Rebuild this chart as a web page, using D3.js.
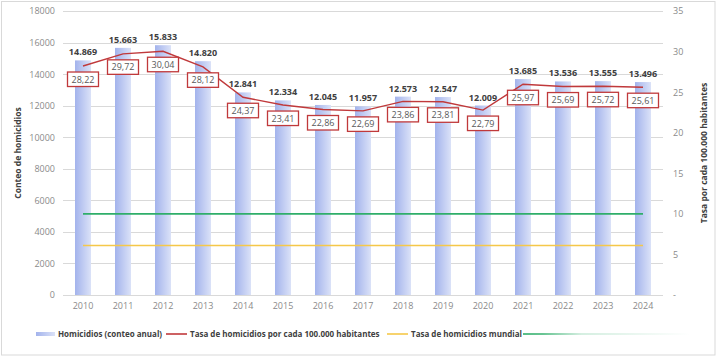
<!DOCTYPE html>
<html><head><meta charset="utf-8">
<script src="https://cdn.jsdelivr.net/npm/d3@7/dist/d3.min.js"></script>
<style>
body{margin:0;background:#fff;}
svg{display:block;font-family:"Open Sans",sans-serif;}
</style></head>
<body><svg id="c" width="718" height="358"></svg>
<script>
const years = ["2010","2011","2012","2013","2014","2015","2016","2017","2018","2019","2020","2021","2022","2023","2024"];
const homicides = [14869,15663,15833,14820,12841,12334,12045,11957,12573,12547,12009,13685,13536,13555,13496];
const rates = [28.22,29.72,30.04,28.12,24.37,23.41,22.86,22.69,23.86,23.81,22.79,25.97,25.69,25.72,25.61];
const worldRate = 6.1;
const refRate = 10;
const leftTicks = [0,2000,4000,6000,8000,10000,12000,14000,16000,18000];
const rightTicks = [0,5,10,15,20,25,30,35];
const legendLabels = ["Homicidios (conteo anual)","Tasa de homicidios por cada 100.000 habitantes","Tasa de homicidios mundial",""];
const leftTitle = "Conteo de homicidios";
const rightTitle = "Tasa por cada 100.000 habitantes";

const svg = d3.select("#c");
const L=63,R=663,T=11,B=295;
const x = d3.scaleBand().domain(years).range([L,R]).paddingInner(0.6).paddingOuter(0.3);
const yL = d3.scaleLinear().domain([0,18000]).range([B,T]);
const yR = d3.scaleLinear().domain([0,35]).range([B,T]);
const cx = d => x(d)+x.bandwidth()/2;

const defs = svg.append("defs");
const g1 = defs.append("linearGradient").attr("id","barg").attr("x1","0").attr("x2","1").attr("y1","0").attr("y2","0");
g1.append("stop").attr("offset","0").attr("stop-color","#a3b3ec");
g1.append("stop").attr("offset","1").attr("stop-color","#dbe2f8");
const g2 = defs.append("linearGradient").attr("id","greenfade").attr("gradientUnits","userSpaceOnUse").attr("x1",523).attr("x2",690).attr("y1",0).attr("y2",0);
g2.append("stop").attr("offset","0").attr("stop-color","#2fae6a").attr("stop-opacity",1);
g2.append("stop").attr("offset","0.12").attr("stop-color","#2fae6a").attr("stop-opacity",0.9);
g2.append("stop").attr("offset","0.35").attr("stop-color","#2fae6a").attr("stop-opacity",0.25);
g2.append("stop").attr("offset","1").attr("stop-color","#2fae6a").attr("stop-opacity",0);

// border
svg.append("rect").attr("x",1.5).attr("y",1.5).attr("width",713.5).attr("height",353.5)
  .attr("fill","#fff").attr("stroke","#d9d9d9").attr("stroke-width",1);

// gridlines
svg.append("g").selectAll("line").data(leftTicks).join("line")
  .attr("x1",L).attr("x2",R).attr("y1",d=>Math.round(yL(d))+0.5).attr("y2",d=>Math.round(yL(d))+0.5)
  .attr("stroke","#d9d9d9").attr("stroke-width",1);

// axes
const axL = svg.append("g").attr("transform",`translate(${L},0)`)
  .call(d3.axisLeft(yL).tickValues(leftTicks).tickSize(0).tickPadding(8).tickFormat(d3.format("d")));
const axR = svg.append("g").attr("transform",`translate(${R},0)`)
  .call(d3.axisRight(yR).tickValues(rightTicks).tickSize(0).tickPadding(10).tickFormat(d=>d===0?"-":d));
const axB = svg.append("g").attr("transform",`translate(0,${B})`)
  .call(d3.axisBottom(x).tickSize(0).tickPadding(8));
[axL,axR,axB].forEach(a=>{a.select(".domain").remove();a.selectAll("text").attr("fill","#8a8a8a").style("font-size","9px").style("font-family","Open Sans");});

// bars
svg.append("g").selectAll("rect").data(homicides).join("rect")
  .attr("x",(d,i)=>x(years[i])).attr("width",x.bandwidth())
  .attr("y",d=>yL(d)).attr("height",d=>B-yL(d)).attr("fill","url(#barg)");

// bar labels
svg.append("g").selectAll("text").data(homicides).join("text")
  .attr("x",(d,i)=>cx(years[i])).attr("y",d=>yL(d)-5).attr("text-anchor","middle")
  .attr("fill","#404040").style("font-size","9px").style("font-weight","700")
  .text(d=>d3.format(",")(d).replace(/,/g,"."));

// reference lines
const hline = (v,color)=>svg.append("line").attr("x1",cx(years[0])).attr("x2",cx(years[years.length-1]))
  .attr("y1",yR(v)).attr("y2",yR(v)).attr("stroke",color).attr("stroke-width",1.6);
hline(refRate,"#2fae6a");
hline(worldRate,"#f5c84a");

// rate line
svg.append("path").datum(rates)
  .attr("d",d3.line().x((d,i)=>cx(years[i])).y(d=>yR(d)))
  .attr("fill","none").attr("stroke","#c0393b").attr("stroke-width",1.4);

// rate labels
const rl = svg.append("g").selectAll("g").data(rates).join("g")
  .attr("transform",(d,i)=>`translate(${cx(years[i])},${yR(d)})`);
rl.append("rect").attr("x",-15.5).attr("y",6).attr("width",31).attr("height",14.5)
  .attr("fill","#fff").attr("stroke","#c0393b").attr("stroke-width",1.3);
rl.append("text").attr("y",16.5).attr("text-anchor","middle").attr("fill","#595959")
  .style("font-size","9px").text(d=>d.toFixed(2).replace(".",","));

// axis titles
svg.append("text").attr("transform",`translate(21,${(T+B)/2}) rotate(-90)`).attr("text-anchor","middle")
  .attr("fill","#404040").style("font-size","8.5px").style("font-weight","700").text(leftTitle);
svg.append("text").attr("transform",`translate(707,${(T+B)/2}) rotate(-90)`).attr("text-anchor","middle")
  .attr("fill","#404040").style("font-size","8.5px").style("font-weight","700").text(rightTitle);

// legend
const ly = 334;
const sw = [[36,55],[166,187],[387,408],[523,690]];
svg.append("rect").attr("x",sw[0][0]).attr("y",ly-2).attr("width",sw[0][1]-sw[0][0]).attr("height",4).attr("fill","url(#barg)");
svg.append("line").attr("x1",sw[1][0]).attr("x2",sw[1][1]).attr("y1",ly).attr("y2",ly).attr("stroke","#c0393b").attr("stroke-width",1.6);
svg.append("line").attr("x1",sw[2][0]).attr("x2",sw[2][1]).attr("y1",ly).attr("y2",ly).attr("stroke","#f5c84a").attr("stroke-width",1.6);
svg.append("rect").attr("x",sw[3][0]).attr("y",ly-0.8).attr("width",sw[3][1]-sw[3][0]).attr("height",1.6).attr("fill","url(#greenfade)");
svg.append("g").selectAll("text").data(legendLabels).join("text")
  .attr("x",(d,i)=>sw[i][1]+3).attr("y",ly+3).attr("fill","#404040")
  .style("font-size","8px").style("font-weight","700").text(d=>d);
</script></body></html>
